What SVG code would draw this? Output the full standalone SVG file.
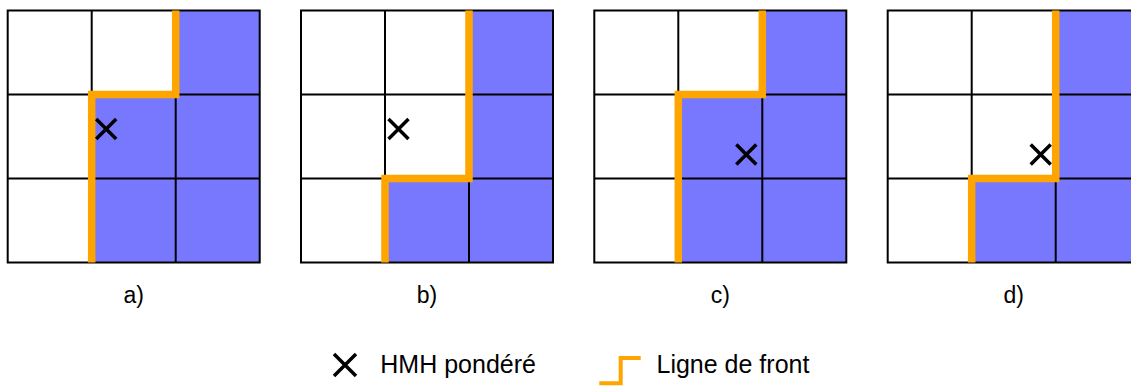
<svg xmlns="http://www.w3.org/2000/svg" width="1131" height="386" viewBox="0 0 1131 386">
<style>
.bg{fill:#ffffff}
.blue{fill:#7878ff}
.grid{fill:none;stroke:#000;stroke-width:2}
.front{fill:none;stroke:#ffa500;stroke-width:7.5;stroke-linejoin:miter;stroke-linecap:butt}
.cross{stroke:#000;stroke-width:3.5;stroke-linecap:butt}
.lbl{font-family:"Liberation Sans",Arial,sans-serif;font-size:23px;fill:#000;text-anchor:middle}
.leg{font-family:"Liberation Sans",Arial,sans-serif;font-size:25px;fill:#000}
</style>
<defs>
<g id="gridlines">
<rect x="0" y="0" width="252" height="252" class="grid"/>
<path d="M84,0V252M168,0V252M0,84H252M0,168H252" class="grid"/>
</g>
<path id="xm" d="M-10,-10L10,10M-10,10L10,-10" class="cross"/>
</defs>
<rect width="1131" height="386" class="bg"/>
<g id="panel-a" transform="translate(7.7,10.5)">
<path class="blue" d="M168,0H252V252H84V84H168Z"/>
<use href="#gridlines"/>
<path class="front" d="M168,0V84H84V252"/>
<use href="#xm" x="98.5" y="118.5"/>
<text class="lbl" x="126" y="292.5">a)</text>
</g>
<g id="panel-b" transform="translate(301,10.5)">
<path class="blue" d="M168,0H252V252H84V168H168Z"/>
<use href="#gridlines"/>
<path class="front" d="M168,0V168H84V252"/>
<use href="#xm" x="97.5" y="118.5"/>
<text class="lbl" x="126" y="292.5">b)</text>
</g>
<g id="panel-c" transform="translate(594.3,10.5)">
<path class="blue" d="M168,0H252V252H84V84H168Z"/>
<use href="#gridlines"/>
<path class="front" d="M168,0V84H84V252"/>
<use href="#xm" x="152" y="144"/>
<text class="lbl" x="126" y="292.5">c)</text>
</g>
<g id="panel-d" transform="translate(887.7,10.5)">
<path class="blue" d="M168,0H252V252H84V168H168Z"/>
<use href="#gridlines"/>
<path class="front" d="M168,0V168H84V252"/>
<use href="#xm" x="153" y="144"/>
<text class="lbl" x="126" y="292.5">d)</text>
</g>
<g id="legend">
<path d="M334,354L356,376M334,376L356,354" stroke="#000" stroke-width="3.5"/>
<text class="leg" x="380.3" y="373.3">HMH pondéré</text>
<path d="M599.3,383.3H620.7V358H640.7" fill="none" stroke="#ffa500" stroke-width="4" stroke-linejoin="miter"/>
<text class="leg" x="656.5" y="373.3">Ligne de front</text>
</g>
</svg>
